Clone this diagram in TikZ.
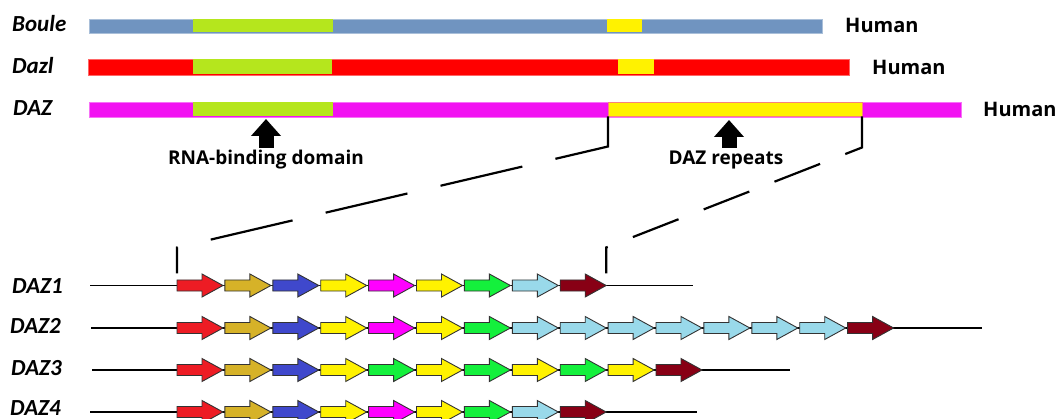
\documentclass[tikz,border=0pt]{standalone}
\usepackage{fontspec}
\newfontfamily\labfont{Carlito}
\newfontfamily\annfont{Open Sans}
\usetikzlibrary{calc,arrows.meta}
\definecolor{bouleblue}{RGB}{112,148,192}
\definecolor{domgreen}{RGB}{181,230,29}
\definecolor{repyellow}{RGB}{255,242,0}
\definecolor{dazlred}{RGB}{255,0,0}
\definecolor{dazmag}{RGB}{242,18,242}
\definecolor{ared}{RGB}{237,28,36}
\definecolor{agold}{RGB}{214,178,40}
\definecolor{ablue}{RGB}{63,72,204}
\definecolor{ayellow}{RGB}{255,242,0}
\definecolor{amag}{RGB}{255,0,255}
\definecolor{agreen}{RGB}{20,240,60}
\definecolor{alblue}{RGB}{153,217,234}
\definecolor{adred}{RGB}{136,0,21}
\newcommand{\generow}[3]{%
  \foreach \c [count=\i from 0] in {#3} {
    \node[gbox] (#1a\i) at ({177+23+47.9*\i},#2) {};
    \filldraw[gedge,fill=\c] (#1a\i.west) ++(0,-5.5) -- ++(25,0) -- ++(0,-6) -- (#1a\i.east) -- ++(-21,11.5) -- ++(0,-6) -- ++(-25,0) -- cycle;
  }}
\begin{document}
\begin{tikzpicture}[x=1pt,y=-1pt,
  bar/.style={inner sep=0pt,outer sep=0pt,anchor=west},
  seg/.style={inner sep=0pt,outer sep=0pt,anchor=west},
  genename/.style={font=\labfont\bfseries\itshape\fontsize{23}{27}\selectfont,anchor=base west,inner sep=0pt,text depth=0pt},
  species/.style={font=\annfont\bfseries\fontsize{20}{24}\selectfont,anchor=base west,inner sep=0pt},
  annot/.style={font=\annfont\bfseries\fontsize{19}{23}\selectfont,anchor=base,inner sep=0pt},
  gbox/.style={inner sep=0pt,outer sep=0pt,minimum width=46pt,minimum height=23pt},
  gedge/.style={draw=black!80,line width=0.9pt,line join=miter},
  gline/.style={line width=1.4pt},
  zoomline/.style={line width=2.2pt,line cap=butt,line join=miter},
  bigarrow/.style={line width=15pt,-{Triangle[width=29pt,length=17pt]}}]
\useasboundingbox (0,0) rectangle (1056,419);

% ---- protein bars ----
\node[bar,fill=bouleblue,draw=bouleblue!60!white,line width=0.6pt,minimum width=733pt,minimum height=14pt] (boule) at (89,26) {};
\node[seg,fill=domgreen,minimum width=140pt,minimum height=13pt] (bouleRBD) at (193,26) {};
\node[seg,fill=repyellow,minimum width=35pt,minimum height=13pt] (bouleRep) at (607,26) {};

\node[bar,fill=dazlred,draw=dazlred!60!white,line width=0.6pt,minimum width=761pt,minimum height=16pt] (dazl) at (88,67) {};
\node[seg,fill=domgreen,minimum width=139pt,minimum height=15pt] (dazlRBD) at (193,67) {};
\node[seg,fill=repyellow,minimum width=36pt,minimum height=15pt] (dazlRep) at (618,67) {};

\node[bar,fill=dazmag,draw=dazmag!60!white,line width=0.6pt,minimum width=872pt,minimum height=15pt] (daz) at (89,109.5) {};
\node[seg,fill=domgreen,minimum width=140pt,minimum height=14pt] (dazRBD) at (193,109.5) {};
\node[seg,fill=repyellow,draw=dazmag!50!repyellow,line width=0.6pt,minimum width=254pt,minimum height=14pt] (dazRep) at (608,109.5) {};

\node[genename] (lboule) at (12,31.5) {Boule};
\node[genename] (ldazl) at (12,74) {Dazl};
\node[genename] (ldaz) at (13,116) {DAZ};
\node[species] (h1) at (845,33) {Human};
\node[species] (h2) at (872,75) {Human};
\node[species] (h3) at (983,117) {Human};

% ---- annotations ----
\node[annot] (rnatext) at (266,165) {RNA-binding domain};
\node[annot] (reptext) at (726,165) {DAZ repeats};
\coordinate (rnaA) at (266,148);
\coordinate (rnaB) at (266,119);
\coordinate (repA) at (729,148);
\coordinate (repB) at (729,120);
\draw[bigarrow] (rnaA) -- (rnaB);
\draw[bigarrow] (repA) -- (repB);

% ---- gene rows ----
\node[genename] (ld1) at (12,294) {DAZ1};
\node[genename] (ld2) at (10,333) {DAZ2};
\node[genename] (ld3) at (11,375) {DAZ3};
\node[genename] (ld4) at (10,415) {DAZ4};

\coordinate (r1s) at (90,285.5);
\coordinate (r1e) at (693,285.5);
\coordinate (r2s) at (91,328);
\coordinate (r2e) at (982,328);
\coordinate (r3s) at (92,370);
\coordinate (r3e) at (790,370);
\coordinate (r4s) at (90,412);
\coordinate (r4e) at (697,412);

\draw[gline] (r1s) -- (r1e);
\draw[gline] (r2s) -- (r2e);
\draw[gline] (r3s) -- (r3e);
\draw[gline] (r4s) -- (r4e);

\generow{r1}{285.5}{ared,agold,ablue,ayellow,amag,ayellow,agreen,alblue,adred}
\generow{r2}{328}{ared,agold,ablue,ayellow,amag,ayellow,agreen,alblue,alblue,alblue,alblue,alblue,alblue,alblue,adred}
\generow{r3}{370}{ared,agold,ablue,ayellow,agreen,ayellow,agreen,ayellow,agreen,ayellow,adred}
\generow{r4}{412}{ared,agold,ablue,ayellow,amag,ayellow,agreen,alblue,adred}

% ---- zoom connectors ----
\draw[zoomline,dash pattern=on 84pt off 34pt] (dazRep.south west) -- ++(0,30) -- ($(r1a0.west)+(0,-38)$) -- ($(r1a0.west)+(0,-12)$);
\draw[zoomline,dash pattern=on 49pt off 27pt] (dazRep.south east) -- ++(0,31) -- ($(r1a8.east)+(0,-38)$) -- ($(r1a8.east)+(0,-12)$);
\end{tikzpicture}
\end{document}
